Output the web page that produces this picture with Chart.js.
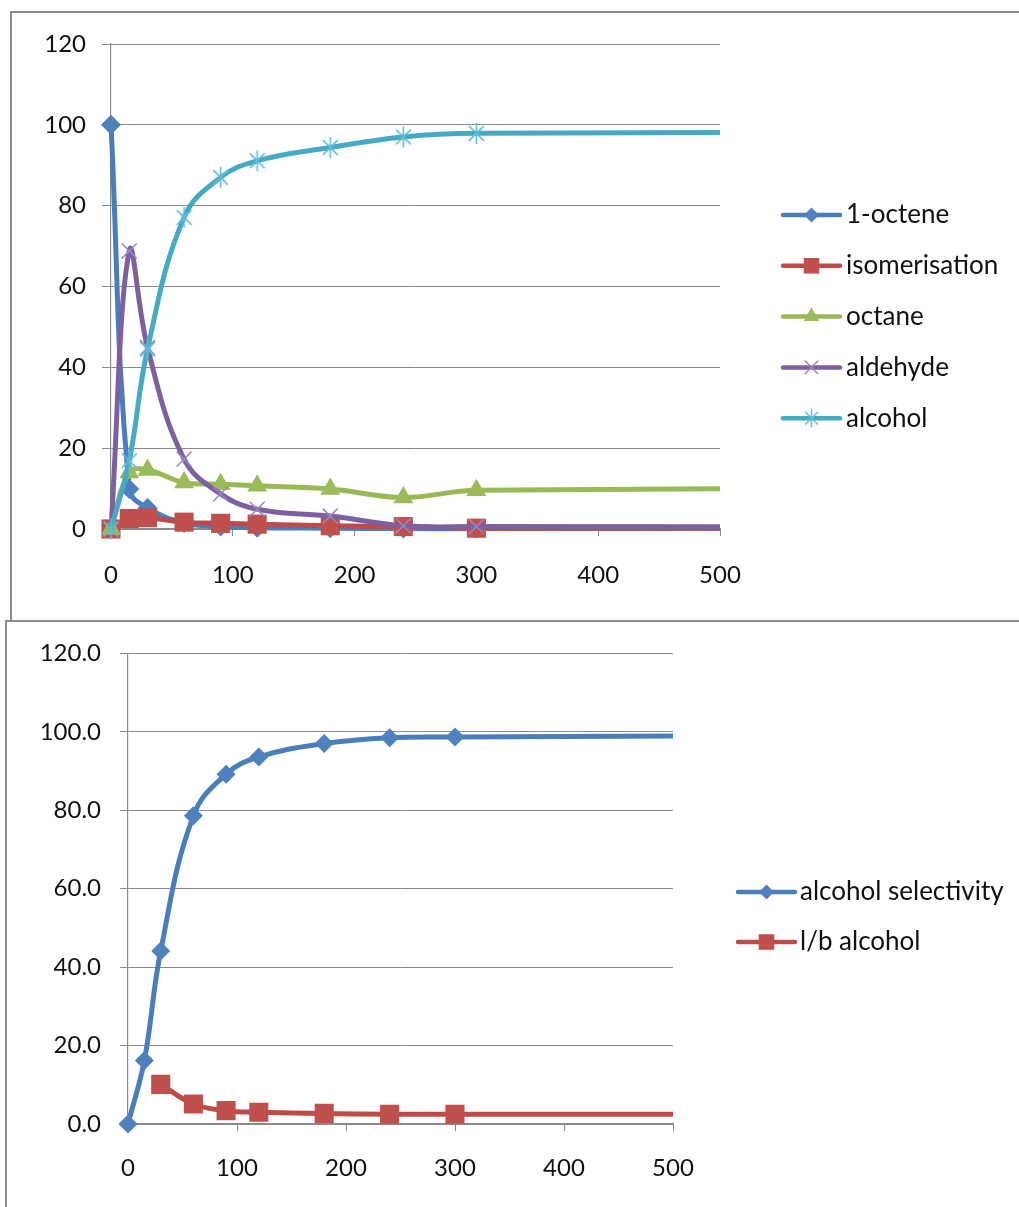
<!DOCTYPE html>
<html><head><meta charset="utf-8">
<script src="https://cdn.jsdelivr.net/npm/chart.js@4.4.1/dist/chart.umd.min.js"></script>
<style>
html,body{margin:0;padding:0;background:#fff;width:1019px;height:1207px;overflow:hidden;position:relative;}
.box{position:absolute;border:2px solid #8c8c8c;box-sizing:border-box;}
#box1{left:10px;top:11px;width:1100px;height:611px;}
#box2{left:5px;top:620px;width:1100px;height:700px;}
canvas{position:absolute;left:0;}
#c1{top:0;}
#c2{top:620px;}
</style></head>
<body>
<div class="box" id="box1"></div>
<div class="box" id="box2"></div>
<canvas id="c1" width="1019" height="620"></canvas>
<canvas id="c2" width="1019" height="587"></canvas>
<script>
// ---------- data ----------
const timeMin = [0, 15, 30, 60, 90, 120, 180, 240, 300, 1440];

const octene1       = [100, 9.9, 5.2, 1.5, 0.6, 0.3, 0.2, 0.1, 0.1, 0.1];
const isomerisation = [0, 2.6, 2.8, 1.7, 1.4, 1.2, 0.8, 0.6, 0.2, 0.6];
const octane        = [0, 14.0, 14.6, 11.5, 11.1, 10.7, 9.9, 7.8, 9.6, 11.0];
const aldehyde      = [0, 68.8, 44.9, 17.3, 8.7, 4.9, 3.2, 0.8, 0.6, 0.3];
const alcohol       = [0, 16.9, 44.5, 77.1, 87.0, 91.1, 94.4, 97.0, 97.9, 98.8];

const alcoholSelectivity = [0, 16.2, 44.1, 78.6, 89.2, 93.6, 97.0, 98.5, 98.7, 99.9];
const lbAlcohol          = [null, null, 10.1, 5.1, 3.4, 3.0, 2.7, 2.5, 2.5, 2.5];

const topLabels    = ['1-octene', 'isomerisation', 'octane', 'aldehyde', 'alcohol'];
const bottomLabels = ['alcohol selectivity', 'l/b alcohol'];

const xTickValues = [0, 100, 200, 300, 400, 500];
const yTickValues = [0, 20, 40, 60, 80, 100, 120];

// ---------- styling ----------
const FONT = 'Lato';
const GRID = '#8a8a8a';
const TEXT = '#111';

function makeAsterisk(r, color, lw) {
  const c = document.createElement('canvas');
  const s = Math.ceil(2 * r + 4);
  c.width = s; c.height = s;
  const g = c.getContext('2d');
  g.strokeStyle = color; g.lineWidth = lw;
  const m = s / 2;
  g.beginPath();
  g.moveTo(m, m - r); g.lineTo(m, m + r);
  const d = r * Math.SQRT1_2;
  g.moveTo(m - d, m - d); g.lineTo(m + d, m + d);
  g.moveTo(m - d, m + d); g.lineTo(m + d, m - d);
  g.stroke();
  return c;
}

const asteriskBig = makeAsterisk(10.5, '#62bcd6', 1.6);

const topStyles = [
  {line: '#4A7EBB', fill: '#4F81BD', style: 'rectRot', r: 10, bw: 0, lr: 7.5},
  {line: '#BE4B48', fill: '#C0504D', style: 'rect', r: 13.5, bw: 0, lr: 11},
  {line: '#98B954', fill: '#9BBB59', style: 'triangle', r: 11.5, bw: 0, lr: 9},
  {line: '#7D60A0', fill: '#9a86c0', style: 'crossRot', r: 10.5, bw: 1.5, lr: 9},
  {line: '#46AAC5', fill: '#62bcd6', style: asteriskBig, r: 10.5, bw: 1.5, lr: 9}
];
const bottomStyles = [
  {line: '#4A7EBB', fill: '#4F81BD', style: 'rectRot', r: 9.5, bw: 0, lr: 7.5},
  {line: '#BE4B48', fill: '#C0504D', style: 'rect', r: 13.5, bw: 0, lr: 11}
];

function pts(ys) {
  return timeMin.map((x, i) => ({x: x, y: ys[i]})).filter(p => p.y !== null);
}

function buildDatasets(series, labels, styles) {
  return series.map((ys, i) => {
    const s = styles[i];
    return {
      label: labels[i],
      data: pts(ys),
      borderColor: s.line,
      borderWidth: 5,
      backgroundColor: s.fill,
      pointBackgroundColor: s.fill,
      pointBorderColor: s.fill,
      pointBorderWidth: s.bw,
      pointStyle: s.style,
      pointRadius: s.r,
      pointHoverRadius: s.r,
      legendRadius: s.lr,
      tension: 0.4,
      fill: false,
      order: series.length - i,
      clip: {left: 16, top: 16, right: 0, bottom: 16}
    };
  });
}

function drawMarker(ctx, style, r, x, y, fill, bw) {
  ctx.save();
  ctx.fillStyle = fill; ctx.strokeStyle = fill; ctx.lineWidth = bw || 1;
  if (typeof style !== 'string') {
    const sc = (r / 10.5);
    const w = style.width * sc, h = style.height * sc;
    ctx.drawImage(style, x - w / 2, y - h / 2, w, h);
    ctx.restore();
    return;
  }
  ctx.beginPath();
  if (style === 'rectRot') {
    ctx.moveTo(x, y - r); ctx.lineTo(x + r, y); ctx.lineTo(x, y + r); ctx.lineTo(x - r, y); ctx.closePath(); ctx.fill();
  } else if (style === 'rect') {
    const h = r * Math.SQRT1_2;
    ctx.rect(x - h, y - h, 2 * h, 2 * h); ctx.fill();
  } else if (style === 'triangle') {
    ctx.moveTo(x, y - r);
    ctx.lineTo(x + r * Math.cos(Math.PI / 6), y + r / 2);
    ctx.lineTo(x - r * Math.cos(Math.PI / 6), y + r / 2);
    ctx.closePath(); ctx.fill();
  } else if (style === 'crossRot') {
    const d = r * Math.SQRT1_2;
    ctx.moveTo(x - d, y - d); ctx.lineTo(x + d, y + d);
    ctx.moveTo(x - d, y + d); ctx.lineTo(x + d, y - d);
    ctx.stroke();
  }
  ctx.restore();
}

const excelLegend = {
  id: 'excelLegend',
  afterDraw(chart, args, opts) {
    const ctx = chart.ctx;
    ctx.save();
    chart.data.datasets.forEach((ds, i) => {
      const y = opts.y0 + i * opts.dy;
      ctx.strokeStyle = ds.borderColor;
      ctx.lineWidth = 4.5;
      ctx.lineCap = 'round';
      ctx.beginPath();
      ctx.moveTo(opts.x0, y);
      ctx.lineTo(opts.x0 + opts.len, y);
      ctx.stroke();
      drawMarker(ctx, ds.pointStyle, ds.legendRadius, opts.x0 + opts.len / 2, y, ds.pointBackgroundColor, ds.pointBorderWidth);
      ctx.fillStyle = TEXT;
      ctx.font = opts.fontSize + 'px ' + FONT;
      ctx.textAlign = 'left';
      ctx.textBaseline = 'middle';
      ctx.fillText(ds.label, opts.textX, y);
    });
    ctx.restore();
  }
};

function makeChart(canvas, datasets, cfg) {
  return new Chart(canvas, {
    type: 'line',
    data: {datasets: datasets},
    plugins: [excelLegend],
    options: {
      responsive: false,
      animation: false,
      devicePixelRatio: 1,
      events: [],
      layout: {padding: {left: 0, top: cfg.top, right: cfg.right, bottom: 0}},
      plugins: {
        legend: {display: false},
        tooltip: {enabled: false},
        excelLegend: cfg.legend
      },
      scales: {
        x: {
          type: 'linear',
          min: 0, max: 500,
          afterBuildTicks: s => { s.ticks = xTickValues.map(v => ({value: v})); },
          afterFit: s => { s.height = cfg.xHeight; },
          grid: {drawOnChartArea: false, drawTicks: true, tickLength: 7, color: GRID, lineWidth: 1},
          border: {display: true, color: GRID, width: 1.2},
          ticks: {color: TEXT, font: {family: FONT, size: 24}, padding: cfg.xPad, maxRotation: 0, autoSkip: false,
                  callback: v => String(v)}
        },
        y: {
          type: 'linear',
          min: 0, max: 120,
          afterBuildTicks: s => { s.ticks = yTickValues.map(v => ({value: v})); },
          afterFit: s => { s.width = cfg.yWidth; },
          grid: {drawOnChartArea: true, drawTicks: true, tickLength: cfg.yTick, color: GRID, lineWidth: 1},
          border: {display: true, color: GRID, width: 1.2},
          ticks: {color: TEXT, font: {family: FONT, size: 24}, padding: cfg.yPad, autoSkip: false,
                  callback: v => cfg.decimals ? v.toFixed(1) : String(v)}
        }
      }
    }
  });
}

makeChart(document.getElementById('c1'),
  buildDatasets([octene1, isomerisation, octane, aldehyde, alcohol], topLabels, topStyles),
  {top: 44, right: 299, xHeight: 91, yWidth: 111, yTick: 9, yPad: 16, xPad: 25, decimals: false,
   legend: {x0: 783, len: 57, y0: 215, dy: 50.8, textX: 846, fontSize: 26}});

makeChart(document.getElementById('c2'),
  buildDatasets([alcoholSelectivity, lbAlcohol], bottomLabels, bottomStyles),
  {top: 31, right: 346, xHeight: 83, yWidth: 128, yTick: 8, yPad: 19, xPad: 23, decimals: true,
   legend: {x0: 738, len: 57, y0: 272, dy: 50, textX: 800, fontSize: 26}});
</script>
</body></html>
